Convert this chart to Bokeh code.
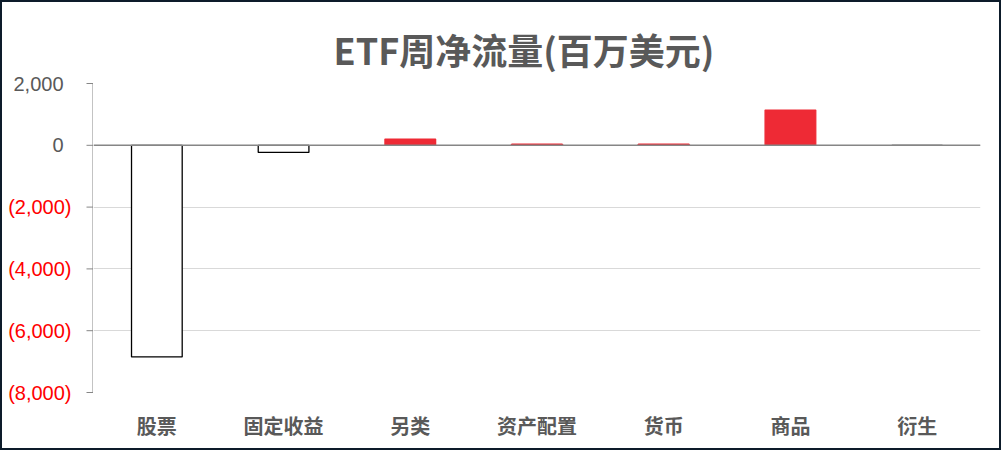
from bokeh.plotting import figure
from bokeh.layouts import row
from bokeh.models import (ColumnDataSource, FactorRange, Range1d, FixedTicker, Span)
from bokeh.core.properties import value
from bokeh.embed import file_html
from bokeh.resources import INLINE

title_text = "ETF周净流量(百万美元)"
categories = ["股票", "固定收益", "另类", "资产配置", "货币", "商品", "衍生"]
flows = [-6850, -230, 200, 35, 35, 1140, 0]

y_ticks = [2000, 0, -2000, -4000, -6000, -8000]
y_tick_labels = ["2,000", "0", "(2,000)", "(4,000)", "(6,000)", "(8,000)"]

RED = "#EE2A35"
GREY_TXT = "#595959"
AXIS_GREY = "#868686"

# layout constants (pixels)
H = 446
TOP, BOTTOM = 81, 56
LEFT_W, MAIN_W = 91, 906
TICK_LEN = 7
Y0, Y1 = -8000, 2000

fill_colors = [RED if v > 0 else "white" for v in flows]
line_colors = [RED if v > 0 else "black" for v in flows]
src = ColumnDataSource(dict(x=categories, top=flows, fill=fill_colors, line=line_colors))

# ---- main chart ----
p = figure(width=MAIN_W, height=H, x_range=FactorRange(factors=categories),
           y_range=Range1d(Y0, Y1), output_backend="svg", y_axis_location=None,
           toolbar_location=None, min_border_left=0, min_border_right=19,
           min_border_top=TOP, min_border_bottom=BOTTOM)
p.frame_align = False
p.outline_line_color = None
p.background_fill_color = "white"
p.border_fill_color = "white"

p.vbar(x="x", top="top", bottom=0, width=0.4, source=src,
       fill_color="fill", line_color="line", line_width=1.3)

p.xgrid.grid_line_color = None
p.ygrid.ticker = FixedTicker(ticks=y_ticks)
p.ygrid.grid_line_color = "#D9D9D9"
p.ygrid.grid_line_width = 1

p.add_layout(Span(location=0, dimension="width", line_color=AXIS_GREY, line_width=1.5))

xax = p.xaxis[0]
xax.axis_line_color = None
xax.major_tick_line_color = None
xax.minor_tick_line_color = None
xax.major_label_text_font = "Noto Sans CJK SC"
xax.major_label_text_font_size = "20px"
xax.major_label_text_font_style = "bold"
xax.major_label_text_color = GREY_TXT
xax.major_label_standoff = 12

p.title.text = title_text
p.title.align = "left"
p.title.offset = 240
p.title.standoff = 18
p.title.text_font = "Noto Sans CJK SC"
p.title.text_font_size = "36px"
p.title.text_font_style = "bold"
p.title.text_color = GREY_TXT

# ---- value axis: line, ticks and labels (grey positives, red negatives) ----
frame_h = H - TOP - BOTTOM
px_per_unit = frame_h / (Y1 - Y0)
left = figure(width=LEFT_W, height=H, x_range=Range1d(0, LEFT_W),
              y_range=Range1d(Y0 - BOTTOM / px_per_unit, Y1 + TOP / px_per_unit),
              output_backend="svg", toolbar_location=None,
              x_axis_location=None, y_axis_location=None,
              min_border_left=0, min_border_right=0, min_border_top=0, min_border_bottom=0)
left.frame_align = False
left.outline_line_color = None
left.grid.visible = False
left.border_fill_color = "white"
left.background_fill_color = "white"

# axis line and outward ticks
left.segment(x0=[LEFT_W - 0.5], y0=[Y0], x1=[LEFT_W - 0.5], y1=[Y1],
             line_color=AXIS_GREY, line_width=1)
left.segment(x0=[LEFT_W - TICK_LEN] * len(y_ticks), y0=y_ticks,
             x1=[LEFT_W] * len(y_ticks), y1=y_ticks, line_color=AXIS_GREY, line_width=1)

lab = ColumnDataSource(dict(
    x=[LEFT_W] * len(y_ticks), y=y_ticks, text=y_tick_labels,
    color=["#FF0000" if t.startswith("(") else GREY_TXT for t in y_tick_labels],
    xoff=[-22 if t.startswith("(") else -30 for t in y_tick_labels]))
left.text(x="x", y="y", text="text", source=lab, x_offset="xoff",
          text_align="right", text_baseline="middle", text_color="color",
          text_font=value("Liberation Sans"), text_font_size="20px")

layout = row(left, p, spacing=0)
layout.styles = {"border": "2px solid #0D1B2A"}

open("out.html", "w").write(file_html(layout, INLINE))
